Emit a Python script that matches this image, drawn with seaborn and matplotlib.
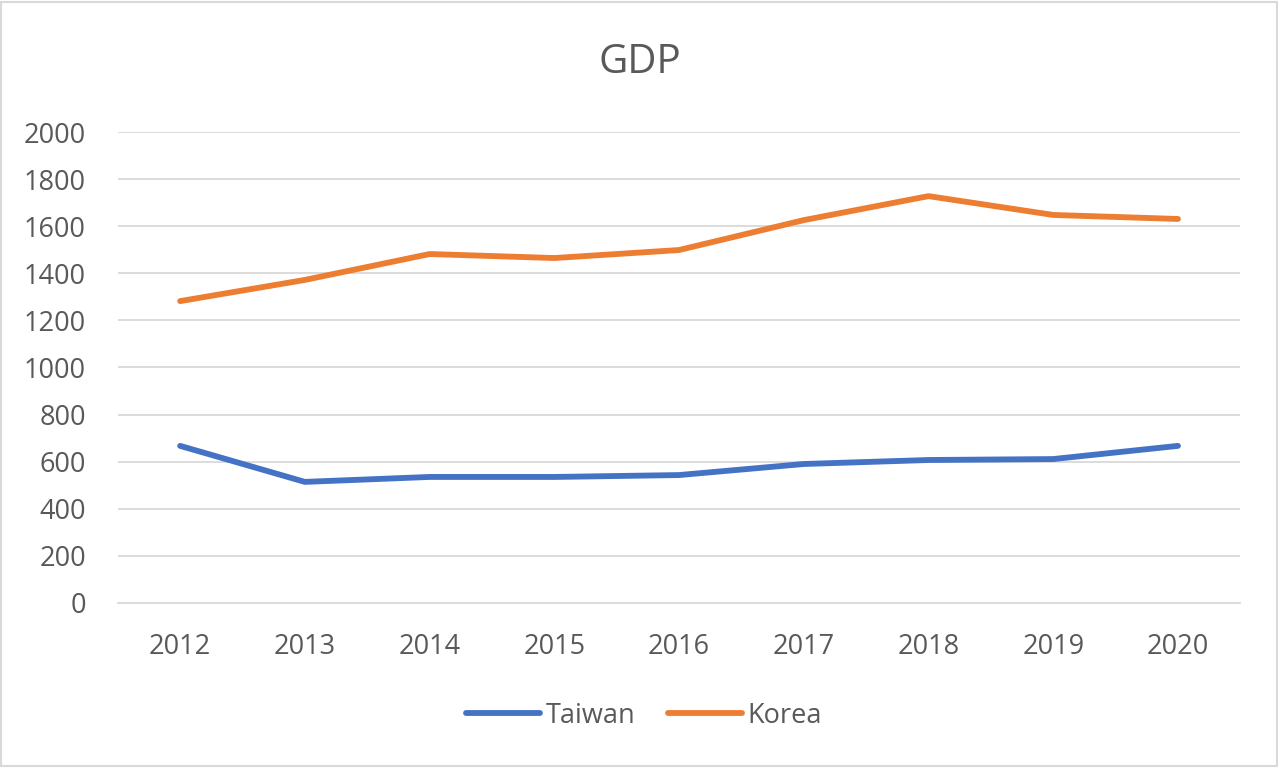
import seaborn as sns
import pandas as pd
import matplotlib.pyplot as plt
from matplotlib.patches import Rectangle

years = [2012, 2013, 2014, 2015, 2016, 2017, 2018, 2019, 2020]
taiwan = [667, 514, 535, 535, 543, 590, 607, 611, 667]
korea = [1282, 1372, 1482, 1465, 1499, 1626, 1728, 1648, 1631]
y_ticks = [0, 200, 400, 600, 800, 1000, 1200, 1400, 1600, 1800, 2000]

df = pd.DataFrame({"year": years, "Taiwan": taiwan, "Korea": korea})
long_df = df.melt(id_vars="year", var_name="country", value_name="gdp")

sns.set_style("white")
plt.rcParams["font.family"] = ["Open Sans", "DejaVu Sans"]
text_color = "#595959"

fig = plt.figure(figsize=(12.8, 7.68), dpi=100)
ax = fig.add_axes([0.092, 0.215, 0.877, 0.613])

sns.lineplot(
    data=long_df,
    x="year",
    y="gdp",
    hue="country",
    palette={"Taiwan": "#4472C4", "Korea": "#ED7D31"},
    linewidth=4.2,
    ax=ax,
    legend=True,
)
for line in ax.get_lines():
    line.set_solid_capstyle("round")

ax.set_xlim(2011.5, 2020.5)
ax.set_ylim(0, 2000)
ax.set_xticks(years)
ax.set_yticks(y_ticks)
ax.yaxis.grid(True, color="#D9D9D9", linewidth=1.3)
ax.set_axisbelow(True)
for side in ["left", "right", "top"]:
    ax.spines[side].set_visible(False)
ax.spines["bottom"].set_color("#D9D9D9")
ax.spines["bottom"].set_linewidth(1.3)
ax.tick_params(axis="both", length=0, labelsize=19.5, colors=text_color)
ax.tick_params(axis="x", pad=22)
ax.tick_params(axis="y", pad=23)
ax.set_xlabel("")
ax.set_ylabel("")

fig.text(0.5, 0.918, "GDP", ha="center", va="center", fontsize=29, color=text_color)

handles, labels = ax.get_legend_handles_labels()
for h in handles:
    h.set_solid_capstyle("round")
ax.legend(
    handles,
    labels,
    loc="center",
    bbox_to_anchor=(0.503, 0.068),
    bbox_transform=fig.transFigure,
    ncol=2,
    frameon=False,
    fontsize=19.5,
    handlelength=2.75,
    handletextpad=0.2,
    columnspacing=1.2,
    labelcolor=text_color,
)

fig.patches.append(
    Rectangle((0.001, 0.002), 0.997, 0.996, transform=fig.transFigure,
              fill=False, edgecolor="#D9D9D9", linewidth=1.5)
)

fig.savefig("out.png", dpi=100)
